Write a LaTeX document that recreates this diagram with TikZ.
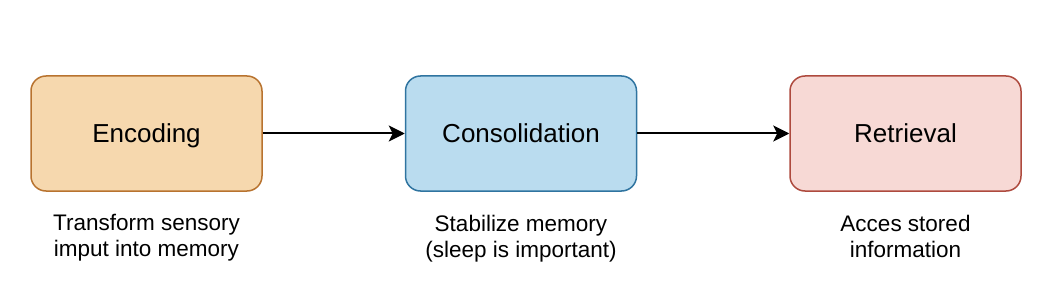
\documentclass[tikz,border=0pt]{standalone}
\usepackage{fontspec}
\setmainfont{Liberation Sans}
\usetikzlibrary{arrows.meta}
\definecolor{encfill}{HTML}{F6D8AE}
\definecolor{encdraw}{HTML}{B8732F}
\definecolor{consfill}{HTML}{BADCEF}
\definecolor{consdraw}{HTML}{2F74A0}
\definecolor{retfill}{HTML}{F7D9D5}
\definecolor{retdraw}{HTML}{AE4A3E}
\begin{document}
\begin{tikzpicture}[x=1pt,y=-1pt,
  stagebox/.style={draw, line width=1.5pt, rounded corners=15pt, minimum width=231pt, minimum height=115pt, inner sep=0pt,
    font=\fontsize{26}{30}\selectfont, text height=18.6pt, text depth=0pt},
  desc/.style={anchor=north, inner sep=0pt, align=center, font=\fontsize{22.5}{26}\selectfont},
  flow/.style={line width=2pt, -{Stealth[length=16pt, width=16pt, inset=4pt]}}]
\useasboundingbox (0,0) rectangle (1049,302);
\node[stagebox, fill=encfill, draw=encdraw] (enc) at (146.5,133.5) {Encoding};
\node[stagebox, fill=consfill, draw=consdraw] (cons) at (521,133.5) {Consolidation};
\node[stagebox, fill=retfill, draw=retdraw] (ret) at (905.5,133.5) {Retrieval};
\draw[flow] (enc.east) -- (cons.west);
\draw[flow] (cons.east) -- (ret.west);
\node[desc] (encd) at (146.5,214.5) {Transform sensory\\imput into memory};
\node[desc] (consd) at (521,214.5) {Stabilize memory\\(sleep is important)};
\node[desc] (retd) at (905.5,214.5) {Acces stored\\information};
\end{tikzpicture}
\end{document}
